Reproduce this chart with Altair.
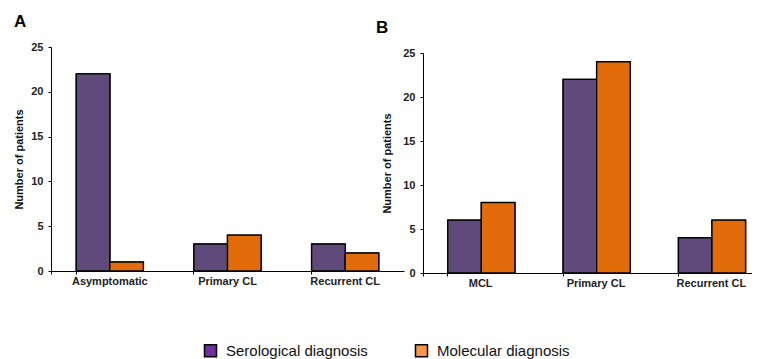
import altair as alt
import pandas as pd

# ---- data ----
series = ["Serological diagnosis", "Molecular diagnosis"]

cats_a = ["Asymptomatic", "Primary CL", "Recurrent CL"]
sero_a = [22, 3, 3]
mol_a = [1, 4, 2]

cats_b = ["MCL", "Primary CL", "Recurrent CL"]
sero_b = [6, 22, 4]
mol_b = [8, 24, 6]

y_ticks = [0, 5, 10, 15, 20, 25]
bar_colors = ["#5F4A7B", "#E36C0A"]
legend_colors = ["#7030A0", "#F79646"]

FONT = "Liberation Sans"


def make_df(cats, sero, mol):
    rows = []
    for c, s, m in zip(cats, sero, mol):
        rows.append({"category": c, "series": series[0], "value": s})
        rows.append({"category": c, "series": series[1], "value": m})
    return pd.DataFrame(rows)


def panel(df, cats, width, height, title, dx, title_pad, yrange=None):
    yscale = dict(domain=[0, 25], nice=False, zero=True)
    if yrange is not None:
        yscale["range"] = yrange
    x = alt.X(
        "category:N", sort=cats, title=None,
        scale=alt.Scale(paddingInner=0.43, paddingOuter=0.215),
        axis=alt.Axis(labelAngle=0, bandPosition=0, tickExtra=True, ticks=True,
                      tickSize=3, tickColor="black", domainColor="black",
                      labelFont=FONT, labelFontSize=11, labelFontWeight="bold",
                      labelColor="#222222", labelPadding=1, grid=False),
    )
    y = alt.Y(
        "value:Q", scale=alt.Scale(**yscale),
        axis=alt.Axis(values=y_ticks, title="Number of patients", grid=False,
                      tickSize=3, tickColor="black", domainColor="black",
                      labelFont=FONT, labelFontSize=11, labelFontWeight="bold",
                      labelColor="#222222", labelPadding=5,
                      titleFont=FONT, titleFontSize=11, titleFontWeight="bold",
                      titleColor="#111111", titlePadding=title_pad),
    )
    xo = alt.XOffset("series:N", sort=series)
    # underlay: carries the legend colours, fully covered by the real bars
    under = alt.Chart(df).mark_bar(stroke="black", strokeWidth=1.5).encode(
        x=x, y=y, xOffset=xo,
        fill=alt.Fill(
            "series:N", scale=alt.Scale(domain=series, range=legend_colors),
            legend=alt.Legend(title=None, orient="none", legendX=152, legendY=296,
                              direction="horizontal", symbolType="square",
                              symbolSize=144, symbolStrokeColor="black",
                              symbolStrokeWidth=1.5, symbolOpacity=1,
                              labelFont=FONT, labelFontSize=15,
                              labelColor="#111111", labelOffset=8,
                              columnPadding=44),
        ),
    )
    bars = alt.Chart(df).mark_bar(stroke="black", strokeWidth=1.3).encode(
        x=x, y=y, xOffset=xo,
        color=alt.Color("series:N", scale=alt.Scale(domain=series, range=bar_colors),
                        legend=None),
    )
    return alt.layer(under, bars).properties(
        width=width, height=height,
        title=alt.TitleParams(title, anchor="start", frame="group", dx=dx, font=FONT,
                              fontSize=17, fontWeight="bold", color="black", offset=10),
    )


pa = panel(make_df(cats_a, sero_a, mol_a), cats_a, 353, 224, "A", -37, 6)
pb = panel(make_df(cats_b, sero_b, mol_b), cats_b, 346, 226, "B", -47, 10, yrange=[226, 6])

chart = alt.hconcat(pa, pb, spacing=19, bounds="flush").properties(
    padding={"left": 5, "top": 5, "right": -17, "bottom": 0}
).configure_view(stroke=None)

chart.save("out.html", embed_options={"renderer": "svg", "actions": False})
